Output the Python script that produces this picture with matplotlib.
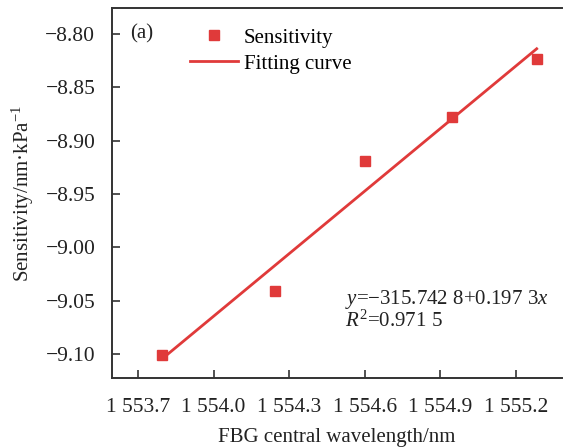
import numpy as np
import matplotlib
matplotlib.use("Agg")
import matplotlib.pyplot as plt

plt.rcParams['font.family'] = ['Liberation Serif', 'DejaVu Serif']
plt.rcParams['mathtext.fontset'] = 'custom'
plt.rcParams['mathtext.rm'] = 'Liberation Serif'
plt.rcParams['mathtext.it'] = 'Liberation Serif:italic'

# data
wavelength = [1553.795, 1554.244, 1554.600, 1554.946, 1555.283]
sensitivity = [-9.101, -9.041, -8.919, -8.878, -8.823]
xticks = [1553.7, 1554.0, 1554.3, 1554.6, 1554.9, 1555.2]
xticklabels = ['1 553.7', '1 554.0', '1 554.3', '1 554.6', '1 554.9', '1 555.2']
yticks = [-8.80, -8.85, -8.90, -8.95, -9.00, -9.05, -9.10]

red = '#e03a3a'
spine = '#333333'

fig = plt.figure(figsize=(5.63, 4.47), dpi=100)
ax = fig.add_axes([0.199, 0.154, 0.799, 0.828])

# linear fit
k, b = np.polyfit(wavelength, sensitivity, 1)
xf = np.array([wavelength[0], wavelength[-1]])
ax.plot(wavelength, sensitivity, 's', color=red, markersize=7, label='Sensitivity', zorder=3)
ax.plot(xf, k * xf + b, '-', color=red, lw=2, label='Fitting curve', zorder=2)

ax.set_xlim(1553.597, 1555.383)
ax.set_ylim(-9.1225, -8.7756)
ax.set_xticks(xticks)
ax.set_xticklabels(xticklabels)
ax.set_yticks(yticks)
ax.set_yticklabels(['\u2212%.2f' % abs(v) for v in yticks])
ax.tick_params(direction='in', length=6, width=1.2, colors=spine, labelsize=15.5, labelcolor='#222222')
ax.tick_params(axis='x', pad=14)
ax.tick_params(axis='y', pad=12)
for s in ax.spines.values():
    s.set_color(spine)
    s.set_linewidth(1.4)
ax.spines['right'].set_visible(False)

ax.set_xlabel('FBG central wavelength/nm', fontsize=15, color='#222222', labelpad=8)
ax.set_ylabel('Sensitivity/nm\u00b7kPa$^{\u2212\\mathrm{1}}$', fontsize=15, color='#222222', labelpad=7)

ax.text(0.04, 0.93, '(a)', transform=ax.transAxes, fontsize=15, color='#222222', va='center')
ax.text(0.517, 0.213, '$y$=\u2212315.742 8+0.197 3$x$', transform=ax.transAxes, fontsize=15, color='#222222', va='center')
ax.text(0.517, 0.155, '$R^2$=0.971 5', transform=ax.transAxes, fontsize=15, color='#222222', va='center')

ax.legend(loc='upper left', bbox_to_anchor=(0.14, 0.985), frameon=False, fontsize=15,
          handlelength=2.3, handletextpad=0.3, labelspacing=0.3, borderaxespad=0.3)

fig.savefig('out.png', dpi=100)
